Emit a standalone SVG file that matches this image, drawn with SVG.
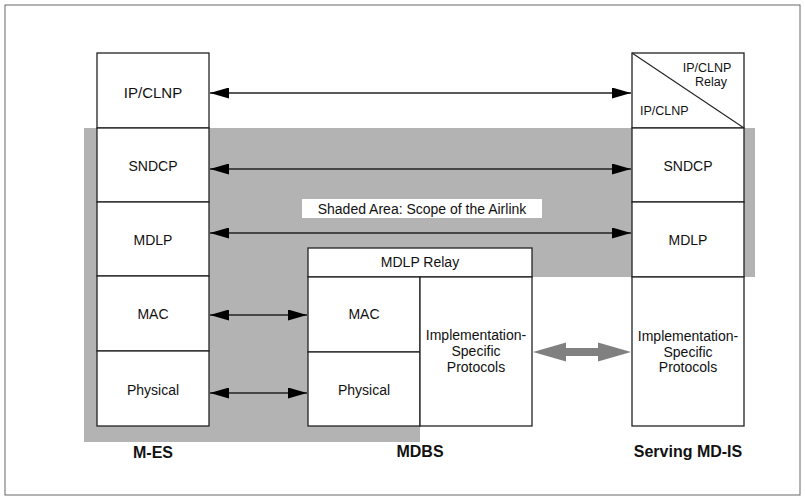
<svg xmlns="http://www.w3.org/2000/svg" width="805" height="500" viewBox="0 0 805 500">
<style>
.box{fill:#fff;stroke:#222;stroke-width:1.3}
.t{font-family:"Liberation Sans",Arial,sans-serif;font-size:14px;fill:#111;text-anchor:middle}
.s{font-size:12.5px}
.b{font-family:"Liberation Sans",Arial,sans-serif;font-size:16px;font-weight:bold;fill:#111;text-anchor:middle}
.ln{stroke:#222;stroke-width:1.3;fill:none;marker-start:url(#ah);marker-end:url(#ah)}
</style>
<defs>
<marker id="ah" viewBox="0 0 19 11" refX="19" refY="5.5" markerWidth="19" markerHeight="11" markerUnits="userSpaceOnUse" orient="auto-start-reverse">
<path d="M0,0 L19,5.5 L0,11 Z" fill="#000"/>
</marker>
</defs>
<rect x="5" y="5" width="795" height="490" fill="#fff" stroke="#666" stroke-width="1"/>
<polygon id="shade" points="84,128 755,128 755,277 420,277 420,442 84,442" fill="#b3b3b3"/>
<rect id="legend" x="302" y="199" width="240" height="19" fill="#fff"/>
<text class="t" x="422" y="214">Shaded Area: Scope of the Airlink</text>

<g id="mes">
<rect class="box" x="97" y="53" width="112" height="75"/>
<text class="t" x="153" y="98" style="font-size:15px">IP/CLNP</text>
<rect class="box" x="97" y="128" width="112" height="74"/>
<text class="t" x="153" y="171">SNDCP</text>
<rect class="box" x="97" y="202" width="112" height="74"/>
<text class="t" x="153" y="245">MDLP</text>
<rect class="box" x="97" y="276" width="112" height="75"/>
<text class="t" x="153" y="319">MAC</text>
<rect class="box" x="97" y="351" width="112" height="75"/>
<text class="t" x="153" y="395">Physical</text>
<text class="b" x="153" y="458">M-ES</text>
</g>

<g id="mdbs">
<rect class="box" x="308" y="248" width="224" height="29"/>
<text class="t" x="420" y="267">MDLP Relay</text>
<rect class="box" x="308" y="277" width="112" height="75"/>
<text class="t" x="364" y="319">MAC</text>
<rect class="box" x="308" y="352" width="112" height="74"/>
<text class="t" x="364" y="395">Physical</text>
<rect class="box" x="420" y="277" width="112" height="149"/>
<text class="t" x="476" y="340">Implementation-</text>
<text class="t" x="476" y="356">Specific</text>
<text class="t" x="476" y="372">Protocols</text>
<text class="b" x="420" y="457">MDBS</text>
</g>

<g id="mdis">
<rect class="box" x="632" y="53" width="112" height="75"/>
<line x1="632" y1="53" x2="744" y2="128" stroke="#222" stroke-width="1.1"/>
<text class="t s" x="707" y="72">IP/CLNP</text>
<text class="t s" x="711" y="86">Relay</text>
<text class="t s" x="640" y="115" style="text-anchor:start">IP/CLNP</text>
<rect class="box" x="632" y="128" width="112" height="74"/>
<text class="t" x="688" y="171">SNDCP</text>
<rect class="box" x="632" y="202" width="112" height="75"/>
<text class="t" x="688" y="245">MDLP</text>
<rect class="box" x="632" y="277" width="112" height="149"/>
<text class="t" x="688" y="341">Implementation-</text>
<text class="t" x="688" y="357">Specific</text>
<text class="t" x="688" y="372">Protocols</text>
<text class="b" x="688" y="457">Serving MD-IS</text>
</g>

<g id="connectors">
<line class="ln" x1="210" y1="93" x2="631" y2="93"/>
<line class="ln" x1="210" y1="169" x2="631" y2="169"/>
<line class="ln" x1="210" y1="233" x2="631" y2="233"/>
<line class="ln" x1="210" y1="315" x2="307" y2="315"/>
<line class="ln" x1="210" y1="393" x2="307" y2="393"/>
<polygon id="thick" points="533,352 566,342.5 566,348 598,348 598,342.5 631,352 598,361.5 598,356 566,356 566,361.5" fill="#808080"/>
</g>
</svg>
